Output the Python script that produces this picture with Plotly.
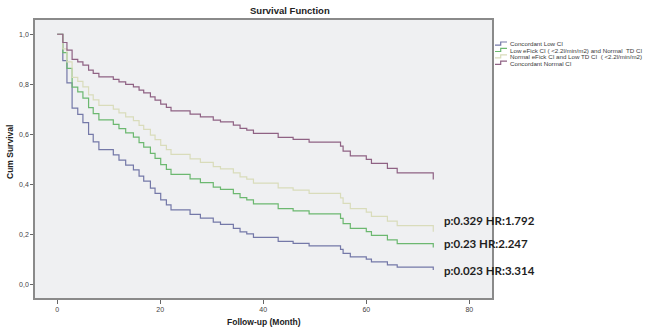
import plotly.graph_objects as go

# ---- data ----
months = [0, 1.1, 1.9, 2.9, 4.0, 5.0, 6.1, 7.0, 8.1, 10.9, 12.0, 13.3, 14.8, 15.9, 16.8,
          18.1, 19.0, 20.1, 21.2, 22.1, 25.8, 27.8, 30.3, 31.7, 34.2, 35.5, 36.8, 38.1,
          42.9, 45.8, 48.9, 55.0, 55.5, 56.9, 60.0, 61.0, 64.1, 66.0, 73.0]

concordant_low = [1.0, 0.895, 0.806, 0.705, 0.680, 0.647, 0.600, 0.570, 0.539, 0.518, 0.497,
                  0.477, 0.458, 0.433, 0.413, 0.385, 0.364, 0.338, 0.318, 0.298, 0.280, 0.265,
                  0.249, 0.240, 0.224, 0.210, 0.202, 0.188, 0.172, 0.164, 0.154, 0.140, 0.124,
                  0.110, 0.101, 0.090, 0.078, 0.069, 0.058]
low_efick = [1.0, 0.927, 0.864, 0.789, 0.770, 0.745, 0.707, 0.683, 0.658, 0.640, 0.623, 0.606,
             0.589, 0.567, 0.549, 0.524, 0.504, 0.479, 0.460, 0.440, 0.422, 0.407, 0.389, 0.380,
             0.363, 0.347, 0.338, 0.322, 0.303, 0.294, 0.282, 0.264, 0.243, 0.224, 0.211, 0.196,
             0.178, 0.163, 0.148]
normal_efick = [1.0, 0.942, 0.890, 0.828, 0.812, 0.790, 0.758, 0.738, 0.716, 0.701, 0.686, 0.670,
                0.655, 0.636, 0.620, 0.597, 0.579, 0.556, 0.539, 0.520, 0.502, 0.488, 0.471,
                0.462, 0.446, 0.430, 0.421, 0.405, 0.386, 0.377, 0.364, 0.346, 0.324, 0.303,
                0.289, 0.272, 0.253, 0.235, 0.211]
concordant_normal = [1.0, 0.967, 0.937, 0.900, 0.890, 0.877, 0.857, 0.844, 0.830, 0.820, 0.810,
                     0.800, 0.790, 0.777, 0.766, 0.750, 0.737, 0.721, 0.708, 0.694, 0.681, 0.670,
                     0.657, 0.650, 0.637, 0.624, 0.617, 0.604, 0.588, 0.580, 0.569, 0.553, 0.533,
                     0.514, 0.500, 0.484, 0.464, 0.446, 0.420]

series_names = ["Concordant Low CI",
                "Low eFick CI ( <2.2l/min/m2) and Normal  TD CI",
                "Normal eFick CI and Low TD CI  ( <2.2l/min/m2)",
                "Concordant Normal CI"]
series_values = [concordant_low, low_efick, normal_efick, concordant_normal]
series_colors = ["#7478a8", "#6cb870", "#d9dcbb", "#8f6284"]

stat_labels = ["p:0.329 HR:1.792", "p:0.23 HR:2.247", "p:0.023 HR:3.314"]
stat_label_y = [0.257, 0.164, 0.057]
stat_label_x = 74.7

y_tickvals = [0.0, 0.2, 0.4, 0.6, 0.8, 1.0]
y_ticktext = ["0,0", "0,2", "0,4", "0,6", "0,8", "1,0"]
x_tickvals = [0, 20, 40, 60, 80]

# ---- layout geometry (pixels) ----
W, H = 648, 329
PL, PR, PT, PB = 35, 492, 20, 298


def px2paper_x(px):
    return (px - PL) / (PR - PL)


def px2paper_y(py):
    return (PB - py) / (PB - PT)


fig = go.Figure()
for name, vals, col in zip(series_names, series_values, series_colors):
    fig.add_trace(go.Scatter(x=months, y=vals, mode="lines", name=name,
                             line=dict(color=col, width=1.2, shape="hv"),
                             showlegend=False))

# p-value / HR annotations
for txt, yv in zip(stat_labels, stat_label_y):
    fig.add_annotation(x=stat_label_x, y=yv, xref="x", yref="y", text="<b>" + txt + "</b>",
                       showarrow=False, xanchor="left", yanchor="middle",
                       font=dict(family="Lato, Open Sans, sans-serif", size=11.5, color="#1e1e1e"))

# manual legend (step icons + labels), outside the plot on the right
legend_rows_px = [43.8, 50.2, 56.6, 63.0]
for name, col, ry in zip(series_names, series_colors, legend_rows_px):
    x0, x1, x2 = px2paper_x(495), px2paper_x(500.7), px2paper_x(507)
    ylo, yhi = px2paper_y(ry + 1.3), px2paper_y(ry - 1.8)
    fig.add_shape(type="path", xref="paper", yref="paper",
                  path=f"M {x0} {ylo} L {x1} {ylo} L {x1} {yhi} L {x2} {yhi}",
                  line=dict(color=col, width=1.2))
    fig.add_annotation(x=px2paper_x(507.5), y=px2paper_y(ry), xref="paper", yref="paper",
                       text=name, showarrow=False, xanchor="left", yanchor="middle",
                       font=dict(family="Liberation Sans, Arial, sans-serif", size=6.2, color="#3a3a3a"))

# titles as annotations for exact placement
fig.add_annotation(x=px2paper_x(290), y=px2paper_y(10.5), xref="paper", yref="paper",
                   text="<b>Survival Function</b>", showarrow=False,
                   xanchor="center", yanchor="middle",
                   font=dict(family="Liberation Sans, Arial, sans-serif", size=9.5, color="#222"))
fig.add_annotation(x=px2paper_x(263.5), y=px2paper_y(322), xref="paper", yref="paper",
                   text="<b>Follow-up (Month)</b>", showarrow=False,
                   xanchor="center", yanchor="middle",
                   font=dict(family="Liberation Sans, Arial, sans-serif", size=8.5, color="#222"))
fig.add_annotation(x=px2paper_x(10), y=px2paper_y(152), xref="paper", yref="paper",
                   text="<b>Cum Survival</b>", showarrow=False, textangle=-90,
                   xanchor="center", yanchor="middle",
                   font=dict(family="Liberation Sans, Arial, sans-serif", size=8.5, color="#222"))

fig.update_layout(
    width=W, height=H,
    margin=dict(l=PL, r=W - PR, t=PT, b=H - PB, autoexpand=False),
    paper_bgcolor="white", plot_bgcolor="#eff0f2",
    font=dict(family="Liberation Sans, Arial, sans-serif", size=7, color="#333"),
)
fig.update_xaxes(range=[-4.3, 84.4], tickvals=x_tickvals, ticks="outside", ticklen=4,
                 tickcolor="#666", showgrid=False, zeroline=False, automargin=False,
                 showline=True, mirror=True, linecolor="#8a8a8a", linewidth=1.5,
                 tickfont=dict(size=7, color="#444"))
fig.update_yaxes(range=[-0.054, 1.057], tickvals=y_tickvals, ticktext=y_ticktext,
                 ticks="outside", ticklen=3, tickcolor="#666", showgrid=False, zeroline=False,
                 automargin=False,
                 showline=True, mirror=True, linecolor="#8a8a8a", linewidth=1.5,
                 tickfont=dict(size=7, color="#444"))

fig.write_html("out.html", config={"displayModeBar": False},
               post_script="document.body.style.margin='0';document.body.style.overflow='hidden';")
